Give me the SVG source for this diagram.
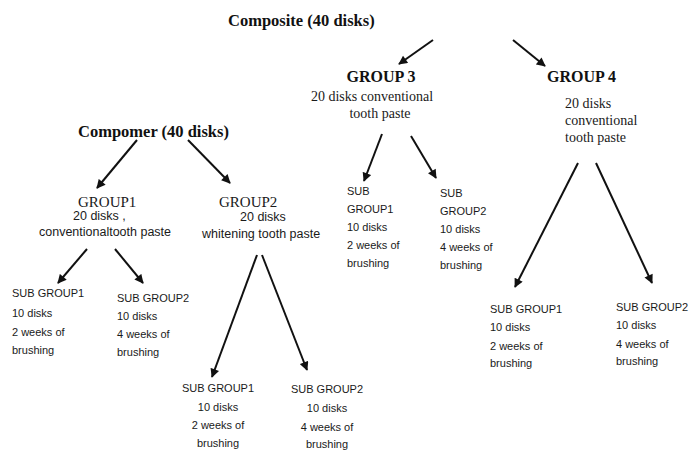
<svg xmlns="http://www.w3.org/2000/svg" width="691" height="450" viewBox="0 0 691 450">
<style>
.t{font-family:"Liberation Serif","Times New Roman",serif;fill:#1a1a1a}
.h{font-family:"Liberation Serif","Times New Roman",serif;font-weight:bold;fill:#111}
.s{font-family:"Liberation Sans",Arial,sans-serif;font-size:11px;fill:#1a1a1a}
.d{font-family:"Liberation Sans",Arial,sans-serif;font-size:12.5px;fill:#1a1a1a}
.a{stroke:#111;stroke-width:2;fill:none;marker-end:url(#ah)}
</style>
<defs>
<marker id="ah" markerUnits="userSpaceOnUse" viewBox="0 0 10 10" refX="9" refY="5" markerWidth="10" markerHeight="9" orient="auto">
<path d="M0,0 L10,5 L0,10 z" fill="#111"/>
</marker>
</defs>
<rect width="691" height="450" fill="#fff"/>
<g id="connectors">
<line class="a" x1="433" y1="40" x2="399" y2="64"/>
<line class="a" x1="513" y1="40" x2="545" y2="66"/>
<line class="a" x1="137" y1="140" x2="97" y2="188"/>
<line class="a" x1="188" y1="140" x2="230" y2="183"/>
<line class="a" x1="87" y1="249" x2="58" y2="283"/>
<line class="a" x1="115" y1="249" x2="143" y2="283"/>
<line class="a" x1="257" y1="255" x2="212" y2="377"/>
<line class="a" x1="262" y1="255" x2="307" y2="370"/>
<line class="a" x1="382" y1="134" x2="364" y2="181"/>
<line class="a" x1="411" y1="136" x2="436" y2="178"/>
<line class="a" x1="578" y1="163" x2="515" y2="287"/>
<line class="a" x1="596" y1="163" x2="652" y2="283"/>
</g>
<g id="composite"><text class="h" x="228" y="26" font-size="16.5">Composite (40 disks)</text></g>
<g id="compomer"><text class="h" x="78" y="137" font-size="16.5">Compomer (40 disks)</text></g>
<g id="group3">
<text class="h" x="381" y="82" font-size="16" text-anchor="middle">GROUP 3</text>
<text class="t" x="372" y="101" font-size="14" text-anchor="middle">20 disks conventional</text>
<text class="t" x="380" y="118" font-size="14" text-anchor="middle">tooth paste</text>
</g>
<g id="group4">
<text class="h" x="547" y="82" font-size="16">GROUP 4</text>
<text class="t" x="565" y="108" font-size="14">20 disks</text>
<text class="t" x="565" y="125" font-size="14">conventional</text>
<text class="t" x="565" y="142" font-size="14">tooth paste</text>
</g>
<g id="group1">
<text class="t" x="78" y="207" font-size="15">GROUP1</text>
<text class="d" x="73" y="220">20 disks ,</text>
<text class="d" x="39" y="236">conventionaltooth paste</text>
</g>
<g id="group2">
<text class="t" x="219" y="207" font-size="15">GROUP2</text>
<text class="d" x="240" y="221">20 disks</text>
<text class="d" x="202" y="238">whitening tooth paste</text>
</g>
<g id="g1-sub1">
<text class="s" x="12" y="297">SUB GROUP1</text>
<text class="s" x="12" y="317">10 disks</text>
<text class="s" x="12" y="336">2 weeks of</text>
<text class="s" x="12" y="354">brushing</text>
</g>
<g id="g1-sub2">
<text class="s" x="117" y="302">SUB GROUP2</text>
<text class="s" x="117" y="320">10 disks</text>
<text class="s" x="117" y="338">4 weeks of</text>
<text class="s" x="117" y="356">brushing</text>
</g>
<g id="g2-sub1" text-anchor="middle">
<text class="s" x="218" y="392">SUB GROUP1</text>
<text class="s" x="218" y="411">10 disks</text>
<text class="s" x="218" y="429">2 weeks of</text>
<text class="s" x="218" y="447">brushing</text>
</g>
<g id="g2-sub2" text-anchor="middle">
<text class="s" x="327" y="393">SUB GROUP2</text>
<text class="s" x="327" y="412">10 disks</text>
<text class="s" x="327" y="431">4 weeks of</text>
<text class="s" x="327" y="448">brushing</text>
</g>
<g id="g3-sub1">
<text class="s" x="347" y="195">SUB</text>
<text class="s" x="347" y="213">GROUP1</text>
<text class="s" x="347" y="231">10 disks</text>
<text class="s" x="347" y="249">2 weeks of</text>
<text class="s" x="347" y="267">brushing</text>
</g>
<g id="g3-sub2">
<text class="s" x="440" y="197">SUB</text>
<text class="s" x="440" y="215">GROUP2</text>
<text class="s" x="440" y="233">10 disks</text>
<text class="s" x="440" y="251">4 weeks of</text>
<text class="s" x="440" y="269">brushing</text>
</g>
<g id="g4-sub1">
<text class="s" x="490" y="313">SUB GROUP1</text>
<text class="s" x="490" y="331">10 disks</text>
<text class="s" x="490" y="350">2 weeks of</text>
<text class="s" x="490" y="367">brushing</text>
</g>
<g id="g4-sub2">
<text class="s" x="616" y="311">SUB GROUP2</text>
<text class="s" x="616" y="329">10 disks</text>
<text class="s" x="616" y="348">4 weeks of</text>
<text class="s" x="616" y="365">brushing</text>
</g>
</svg>
